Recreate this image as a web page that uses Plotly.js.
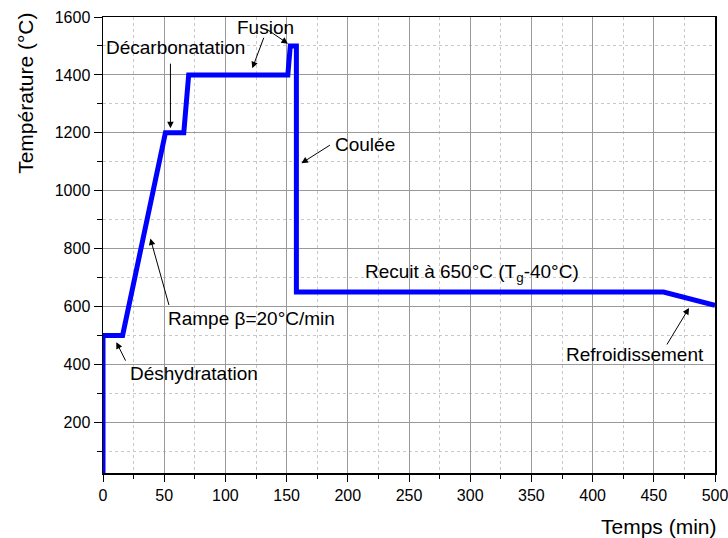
<!DOCTYPE html>
<html>
<head>
<meta charset="utf-8">
<script src="https://cdn.plot.ly/plotly-3.0.1.min.js"></script>
<style>html,body{margin:0;padding:0;background:#fff}#chart{width:728px;height:538px}</style>
</head>
<body>
<div id="chart"></div>
<script>
// Data
var timeMin = [0, 0, 16, 51, 66, 70, 151, 153, 158, 158, 458, 500];
var tempC   = [25, 500, 500, 1200, 1200, 1400, 1400, 1500, 1500, 650, 650, 604];

// Annotation labels and their anchor points (data coordinates)
var labelTexts = ['Décarbonatation', 'Fusion', 'Coulée', 'Rampe β=20°C/min', 'Déshydratation',
                  'Recuit à 650°C (T<sub>g</sub>-40°C)', 'Refroidissement'];
var labelX = [59.4, 133, 187.7, 51.8, 20.4, 212.4, 376.6];
var labelY = [1494, 1563, 1161, 560, 370, 716, 433];
var labelAnchor = ['center', 'center', 'left', 'left', 'left', 'left', 'left'];

// Arrow tips (data coords) and tail offsets (px)
var arrowX  = [55.1, 122, 151.1, 162.1, 38.7, 10.9, 478.8];
var arrowY  = [1216, 1423, 1508, 1095, 835, 477, 595];
var arrowAX = [0, 12, -22, 30, 19, 10, -23];
var arrowAY = [-66, -32, -15, -19, 68, 20, 38];

var FONT = 'Liberation Sans, Arial, Helvetica, sans-serif';

var annotations = [];
for (var i = 0; i < labelTexts.length; i++) {
  annotations.push({
    x: labelX[i], y: labelY[i], xref: 'x', yref: 'y', text: labelTexts[i],
    showarrow: false, xanchor: labelAnchor[i], yanchor: 'middle',
    font: {family: FONT, size: 19, color: '#000'}
  });
}
for (var j = 0; j < arrowX.length; j++) {
  annotations.push({
    x: arrowX[j], y: arrowY[j], xref: 'x', yref: 'y', text: '',
    showarrow: true, ax: arrowAX[j], ay: arrowAY[j],
    arrowhead: 2, arrowsize: 1.3, arrowwidth: 1, arrowcolor: '#000'
  });
}
annotations.push({
  xref: 'paper', yref: 'paper', x: 1.006, y: -0.118, xanchor: 'right', yanchor: 'middle',
  text: 'Temps (min)', showarrow: false, font: {family: FONT, size: 21, color: '#000'}
});
annotations.push({
  xref: 'paper', yref: 'paper', x: -0.128, y: 0.833, xanchor: 'center', yanchor: 'middle',
  text: 'Température (°C)', textangle: -90, showarrow: false,
  font: {family: FONT, size: 21, color: '#000'}
});

var trace = {
  x: timeMin, y: tempC, type: 'scatter', mode: 'lines',
  line: {color: '#0000ff', width: 5},
  hoverinfo: 'skip'
};

var layout = {
  width: 728, height: 538,
  margin: {l: 103, r: 13, t: 17, b: 65},
  paper_bgcolor: '#fff', plot_bgcolor: '#fff',
  showlegend: false,
  font: {family: FONT, size: 16, color: '#000'},
  xaxis: {
    range: [0, 500], tickmode: 'linear', tick0: 0, dtick: 50,
    ticks: 'outside', ticklen: 7, tickwidth: 1, tickcolor: '#000',
    ticklabeloverflow: 'allow',
    showline: true, linecolor: '#000', linewidth: 1.5, mirror: true,
    showgrid: true, gridcolor: '#9a9a9a', gridwidth: 1, zeroline: false,
    tickfont: {family: FONT, size: 16, color: '#000'},
    minor: {dtick: 25, tick0: 0, ticks: 'outside', ticklen: 4, tickcolor: '#000',
            showgrid: true, gridcolor: '#c8c8c8', griddash: 'dot', gridwidth: 1}
  },
  yaxis: {
    range: [25, 1600], tickmode: 'linear', tick0: 0, dtick: 200,
    ticks: 'outside', ticklen: 8, tickwidth: 1, tickcolor: '#000',
    showline: true, linecolor: '#000', linewidth: 1.5, mirror: true,
    showgrid: true, gridcolor: '#9a9a9a', gridwidth: 1, zeroline: false,
    tickfont: {family: FONT, size: 16, color: '#000'},
    minor: {dtick: 100, tick0: 0, ticks: 'outside', ticklen: 5, tickcolor: '#000',
            showgrid: true, gridcolor: '#c8c8c8', griddash: 'dot', gridwidth: 1}
  },
  annotations: annotations
};

Plotly.newPlot('chart', [trace], layout, {staticPlot: true, displayModeBar: false});
</script>
</body>
</html>
